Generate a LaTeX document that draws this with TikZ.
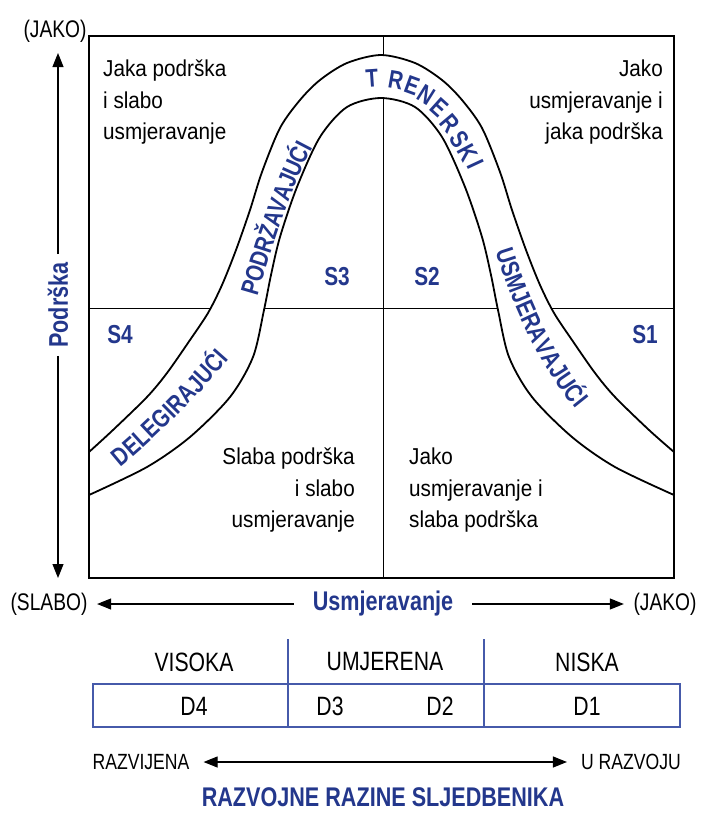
\documentclass[tikz,border=0pt]{standalone}
\usepackage{fontspec}
\setmainfont{Liberation Sans}[FakeStretch=0.9]
\newfontfamily\narrowsans{Liberation Sans}[FakeStretch=0.8]
\usetikzlibrary{arrows.meta}
\usetikzlibrary{decorations.text}
\definecolor{navy}{RGB}{35,55,140}
\definecolor{tblue}{RGB}{70,90,170}
\newcommand{\bandfont}{\narrowsans\fontsize{25.5}{25.5}\selectfont\bfseries\color{navy}}

\begin{document}
\begin{tikzpicture}
    [
    x=1pt, y=-1pt,
    quad/.style={font=\fontsize{23}{31.5}\selectfont, inner sep=0pt},
    slabel/.style={font=\narrowsans\fontsize{26}{26}\selectfont\bfseries, text=navy, inner sep=0pt},
    side/.style={font=\narrowsans\fontsize{24}{24}\selectfont, inner xsep=9.5pt, inner ysep=0pt},
    tabtext/.style={font=\narrowsans\fontsize{26.5}{26.5}\selectfont, inner sep=0pt},
    bluehead/.style={font=\narrowsans\fontsize{27}{27}\selectfont\bfseries, text=navy},
    bandletter/.style={font=\narrowsans\fontsize{25.5}{25.5}\selectfont\bfseries, text=navy, inner sep=0pt},
    bandtext/.style={decorate, decoration={text along path, text align=center, raise=-9pt, text={|\bandfont|#1}}},
    axarrow/.style={-{Triangle[length=14pt,width=11pt]}, line width=1.1pt},
    ]
    \useasboundingbox (0,0) rectangle (701,836);

    % quadrant grid
    \draw [line width=0.9pt] (383,36) -- (383,578);
    \draw [line width=0.9pt] (89,308) -- (674,308);

    % the band
    \filldraw [fill=white, line width=1.8pt]
      plot [smooth, tension=0.5] coordinates {(89,452) (113,430) (147,397) (167,373) (190,340) (208,313) (222,285) (236,250) (250,210) (262,172) (280,128) (300,100) (320,80) (347,63) (381,55) (415,63) (442,80) (462,100) (482,128) (500,172) (512,210) (526,250) (540,285) (554,313) (572,340) (595,373) (615,397) (649,430) (674,452)}
      -- plot [smooth, tension=0.5] coordinates {(674,495) (615,467) (572,437) (532,397) (509,357) (498,310) (491,275) (482,237) (465,187) (442,137) (415,107) (381,98) (347,107) (320,137) (297,187) (280,237) (271,275) (264,310) (253,357) (230,397) (190,437) (147,467) (89,495)}
      -- cycle;
    \draw [line width=1.3pt] (89,36) rectangle (674,578);

    % words along the band
    \path [bandtext=DELEGIRAJUĆI] (95,475) .. controls (140,444) and (204,377) .. (239,335);
    \path [bandtext=PODRŽAVAJUĆI] (238,332) .. controls (256,267) and (286,160) .. (326,110);
    \path [bandtext=USMJERAVAJUĆI] (488,185) .. controls (508,290) and (560,400) .. (630,448);
    \foreach \ch/\px/\py/\ang [count=\i] in {T/372/78/4, R/396/80/-10, E/412/86/-20, N/426/95/-32, E/439/108/-42, R/450/123/-50, S/460/139/-57, K/468/153/-62, I/476/164/-65}
      \node (tr\i) [bandletter, rotate=\ang] at (\px,\py) {\ch};

    % quadrant texts
    \node (tl) [quad, align=left, anchor=north west] at (103,60) {Jaka podrška\\i slabo\\usmjeravanje};
    \node (tr) [quad, align=right, anchor=north east] at (663,60) {Jako\\usmjeravanje i\\jaka podrška};
    \node (bl) [quad, align=right, anchor=north east] at (355,448) {Slaba podrška\\i slabo\\usmjeravanje};
    \node (br) [quad, align=left, anchor=north west] at (409,448) {Jako\\usmjeravanje i\\slaba podrška};

    \node (s1) [slabel] at (645,335) {S1};
    \node (s2) [slabel] at (427,277) {S2};
    \node (s3) [slabel] at (337,277) {S3};
    \node (s4) [slabel] at (120,335) {S4};

    % axes
    \node (jakoT) [side] at (55,31) {(JAKO)};
    \node (pod) [bluehead, rotate=90, inner xsep=8pt, inner ysep=0pt] at (58,305) {Podrška};
    \coordinate (tipUp) at (58,53);
    \coordinate (tipDown) at (58,578);
    \draw [axarrow] (pod.east) -- (tipUp);
    \draw [axarrow] (pod.west) -- (tipDown);

    \node (slabo) [side] at (49,604) {(SLABO)};
    \node (jakoR) [side] at (665,604) {(JAKO)};
    \node (usm) [bluehead, inner xsep=19pt, inner ysep=0pt] at (383,604) {Usmjeravanje};
    \draw [axarrow] (usm.west) -- (slabo.east);
    \draw [axarrow] (usm.east) -- (jakoR.west);

    % development levels
    \node (vis) [tabtext] at (194,662) {VISOKA};
    \node (umj) [tabtext] at (385,662) {UMJERENA};
    \node (nis) [tabtext] at (587,662) {NISKA};
    \draw [tblue, line width=1.4pt] (93,684) rectangle (680,727);
    \draw [tblue, line width=1.2pt] (288,639) -- (288,727);
    \draw [tblue, line width=1.2pt] (484,639) -- (484,727);
    \node (d4) [tabtext] at (194,706) {D4};
    \node (d3) [tabtext] at (330,706) {D3};
    \node (d2) [tabtext] at (440,706) {D2};
    \node (d1) [tabtext] at (587,706) {D1};

    \node (razv) [font=\narrowsans\fontsize{22}{22}\selectfont, inner xsep=14pt] at (141,762) {RAZVIJENA};
    \node (urazv) [font=\narrowsans\fontsize{22}{22}\selectfont, inner xsep=14pt] at (631,762) {U RAZVOJU};
    \draw [{Triangle[length=14pt,width=11pt]}-{Triangle[length=14pt,width=11pt]}, line width=1.1pt] (razv) -- (urazv);

    \node (title) [bluehead] at (383,797) {RAZVOJNE RAZINE SLJEDBENIKA};
\end{tikzpicture}
\end{document}
